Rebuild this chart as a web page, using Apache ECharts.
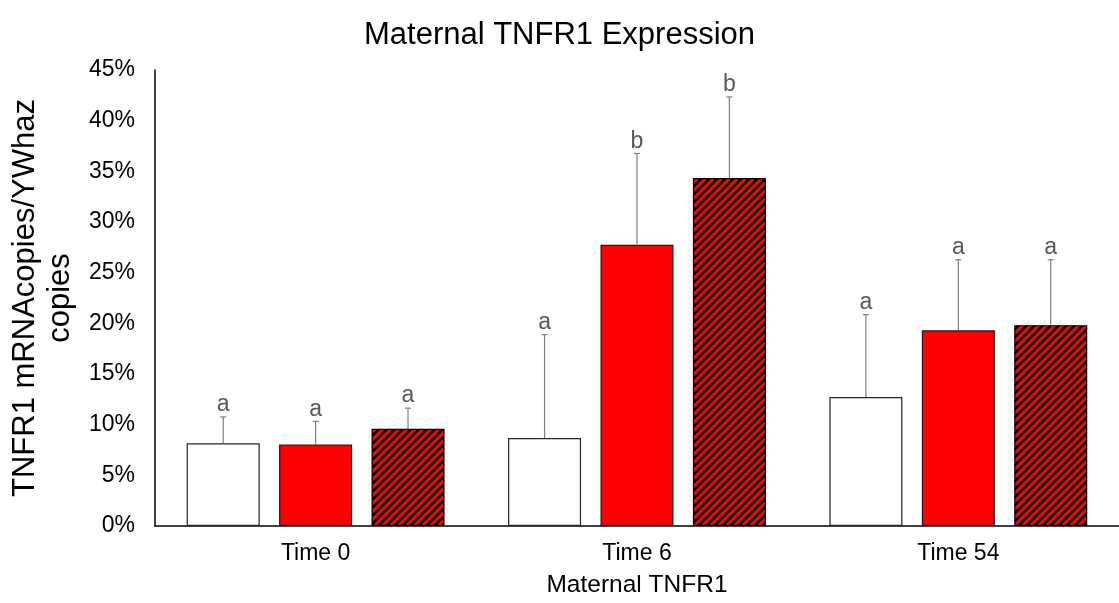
<!DOCTYPE html>
<html>
<head>
<meta charset="utf-8">
<script src="https://cdn.jsdelivr.net/npm/echarts@6/dist/echarts.min.js"></script>
<style>
  html, body { margin: 0; padding: 0; background: #fff; }
  #chart { width: 1119px; height: 603px; }
</style>
</head>
<body>
<div id="chart"></div>
<script>
// Categories and y-axis ticks
const categories = ['Time 0', 'Time 6', 'Time 54'];
const yTicks = [0, 5, 10, 15, 20, 25, 30, 35, 40, 45];

// Means (% of YWhaz copies) per group
const plainMeans   = [8.16, 8.68, 12.73];
const redMeans     = [8.04, 27.76, 19.31];
const hatchedMeans = [9.59, 34.33, 19.82];

// Upper error (SD) per group
const plainErr   = [2.60, 10.20, 8.13];
const redErr     = [2.29, 9.00, 6.96];
const hatchedErr = [2.04, 8.01, 6.45];

// Significance letters
const plainLetters   = ['a', 'a', 'a'];
const redLetters     = ['a', 'b', 'a'];
const hatchedLetters = ['a', 'b', 'a'];

const FONT = '"Liberation Sans", Arial, sans-serif';
const BAR_W = 73;
const BAR_GAP = 19.4;

// Diagonal black stripes on red
function hatchPattern() {
  const s = 8;
  const c = document.createElement('canvas');
  c.width = s; c.height = s;
  const g = c.getContext('2d');
  g.fillStyle = '#ff0000';
  g.fillRect(0, 0, s, s);
  g.strokeStyle = '#000';
  g.lineWidth = 2.6;
  g.beginPath();
  g.moveTo(-2, s + 2); g.lineTo(s + 2, -2);
  g.moveTo(-2, 2); g.lineTo(2, -2);
  g.moveTo(s - 2, s + 2); g.lineTo(s + 2, s - 2);
  g.stroke();
  return c;
}

function errorSeries(name, means, errs, letters, slot) {
  return {
    type: 'custom',
    name: name + ' error',
    z: 5,
    data: means.map((m, i) => [i, m, errs[i], letters[i]]),
    renderItem: function (params, api) {
      const i = api.value(0);
      const mean = api.value(1);
      const err = api.value(2);
      const letter = letters[params.dataIndex];
      const base = api.coord([i, mean]);
      const top = api.coord([i, mean + err]);
      const x = base[0] + slot * (BAR_W + BAR_GAP);
      const cap = 3;
      const st = { stroke: '#7f7f7f', lineWidth: 1.2 };
      return {
        type: 'group',
        children: [
          { type: 'line', shape: { x1: x, y1: base[1], x2: x, y2: top[1] }, style: st },
          { type: 'line', shape: { x1: x - cap, y1: top[1], x2: x + cap, y2: top[1] }, style: st },
          {
            type: 'text',
            style: {
              x: x, y: top[1] - 12, text: letter,
              align: 'center', verticalAlign: 'middle',
              fill: '#595959', font: '23px ' + FONT
            }
          }
        ]
      };
    }
  };
}

const chart = echarts.init(document.getElementById('chart'), null, { renderer: 'canvas' });

const barBase = {
  type: 'bar',
  barWidth: BAR_W,
  barGap: (BAR_GAP / BAR_W * 100).toFixed(1) + '%',
  z: 2
};

chart.setOption({
  animation: false,
  backgroundColor: '#fff',
  title: {
    text: 'Maternal TNFR1 Expression',
    left: 'center',
    top: 15,
    textStyle: { fontFamily: FONT, fontSize: 31, fontWeight: 'normal', color: '#000' }
  },
  grid: { left: 148, top: 70, width: 981, height: 463 },
  xAxis: {
    type: 'category',
    data: categories,
    name: 'Maternal TNFR1',
    nameLocation: 'middle',
    nameGap: 47,
    nameTextStyle: { fontFamily: FONT, fontSize: 24.5, color: '#000' },
    axisLine: { lineStyle: { color: '#000', width: 1.5 } },
    axisTick: { show: false },
    axisLabel: { fontFamily: FONT, fontSize: 23, color: '#000', margin: 16 }
  },
  yAxis: {
    type: 'value',
    min: yTicks[0],
    max: yTicks[yTicks.length - 1],
    interval: yTicks[1] - yTicks[0],
    name: 'TNFR1 mRNAcopies/YWhaz\ncopies',
    nameLocation: 'middle',
    nameRotate: 90,
    nameGap: 70,
    nameTextStyle: { fontFamily: FONT, fontSize: 31, color: '#000', lineHeight: 35 },
    axisLine: { show: true, lineStyle: { color: '#000', width: 1.5 } },
    axisTick: { show: false },
    splitLine: { show: false },
    axisLabel: { fontFamily: FONT, fontSize: 23, color: '#000', margin: 20, formatter: '{value}%' }
  },
  series: [
    Object.assign({}, barBase, {
      name: 'Series 1', data: plainMeans,
      itemStyle: { color: '#ffffff', borderColor: '#262626', borderWidth: 1.2 }
    }),
    Object.assign({}, barBase, {
      name: 'Series 2', data: redMeans,
      itemStyle: { color: '#ff0000', borderColor: '#1a1a1a', borderWidth: 1.2 }
    }),
    Object.assign({}, barBase, {
      name: 'Series 3', data: hatchedMeans,
      itemStyle: { color: { image: hatchPattern(), repeat: 'repeat' }, borderColor: '#000', borderWidth: 1.2 }
    }),
    errorSeries('Series 1', plainMeans, plainErr, plainLetters, -1),
    errorSeries('Series 2', redMeans, redErr, redLetters, 0),
    errorSeries('Series 3', hatchedMeans, hatchedErr, hatchedLetters, 1)
  ]
});
</script>
</body>
</html>
